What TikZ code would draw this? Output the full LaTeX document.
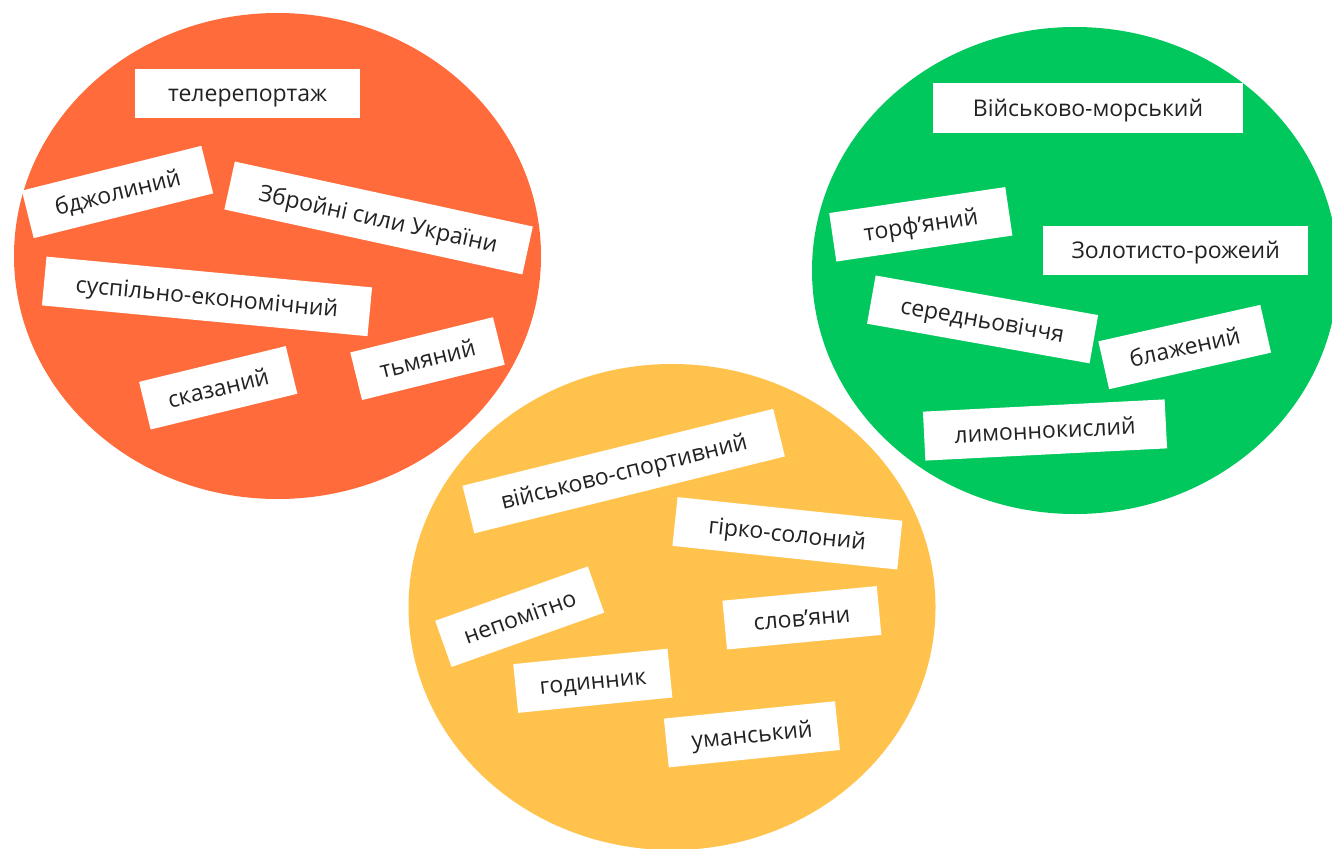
\documentclass[tikz,border=0pt]{standalone}
\usepackage{fontspec}
\usepackage{tikz}
\setmainfont{Open Sans}
\definecolor{redcirc}{HTML}{FF6B3B}
\definecolor{greencirc}{HTML}{00C85C}
\definecolor{yellowcirc}{HTML}{FFC34D}
\definecolor{wordtext}{HTML}{222222}
\tikzset{word/.style={fill=white, text=wordtext, inner sep=0pt, minimum height=49pt,
    text height=20pt, text depth=3pt, font=\fontsize{23}{27}\selectfont}}

\begin{document}
\begin{tikzpicture}[x=1pt,y=-1pt]
    \useasboundingbox (0,0) rectangle (1332,848);
    % \fill [white] (0,0) rectangle (1332,848);
    \fill [redcirc] (277.5,256) ellipse [x radius=263.5pt, y radius=243pt];
    \fill [greencirc] (1075,270.5) ellipse [x radius=263pt, y radius=243.5pt];
    \fill [yellowcirc] (672,607) ellipse [x radius=263.5pt, y radius=243pt];
    % orange circle
    \foreach \x/\y/\w/\a/\t/\n in {247.5/93.5/225/0/телерепортаж/tele,
        117.5/192/185/14/бджолиний/bdzh,
        378.6/218/305/-12.3/Збройні сили України/zsu,
        207/296.4/327/-5.4/суспільно-економічний/susp,
        218.2/387.8/151/13.7/сказаний/skaz,
        427.5/358.6/147/13.9/тьмяний/tmyan}
        \node [word, minimum width=\w pt, rotate=\a] (\n) at (\x,\y) {\t};
    % green circle
    \foreach \x/\y/\w/\a/\t/\n in {1088/108/310/0/Військово-морський/vm,
        920.8/224.3/178/8.4/торф’яний/torf,
        1175.7/250/265/0/Золотисто-рожеий/zolot,
        982.6/319.4/226/-10.1/середньовіччя/sered,
        1184.7/347/166/12.7/блажений/blazh,
        1045/430/242/2.9/лимоннокислий/lymon}
        \node [word, minimum width=\w pt, rotate=\a] (\n) at (\x,\y) {\t};
    % yellow circle
    \foreach \x/\y/\w/\a/\t/\n in {623.7/471.1/320/13.9/військово-спортивний/vsp,
        787.4/533.3/226/-6/гірко-солоний/girko,
        519.7/616.7/162/19.6/непомітно/nepom,
        801.9/617.8/155/5.4/слов’яни/slov,
        592.8/680.8/155/5.7/годинник/godyn,
        751.9/734.3/172/5.8/уманський/uman}
        \node [word, minimum width=\w pt, rotate=\a] (\n) at (\x,\y) {\t};
\end{tikzpicture}
\end{document}
